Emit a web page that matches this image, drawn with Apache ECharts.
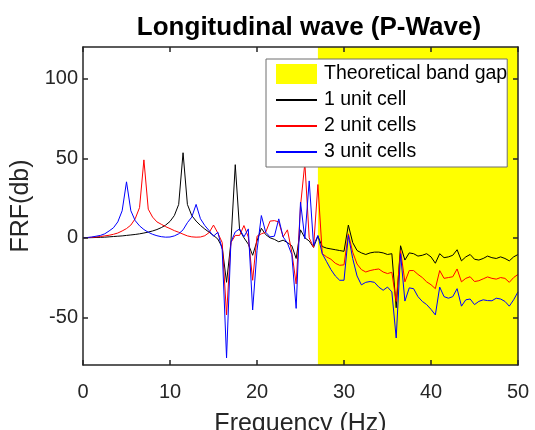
<!DOCTYPE html>
<html>
<head>
<meta charset="utf-8">
<script src="https://cdn.jsdelivr.net/npm/echarts@6/dist/echarts.min.js"></script>
<style>
html,body{margin:0;padding:0;background:#fff;}
#chart{width:535px;height:430px;}
</style>
</head>
<body>
<div id="chart"></div>
<script>
const titleText = 'Longitudinal wave (P-Wave)';
const xName = 'Frequency (Hz)';
const yName = 'FRF(db)';
const seriesNames = ['Theoretical band gap', '1 unit cell', '2 unit cells', '3 unit cells'];
const bandGap = [27, 50];
const xTicks = [0, 10, 20, 30, 40, 50];
const yTicks = [-50, 0, 50, 100];

const freq = [
  0, 0.5, 1, 1.5, 2, 2.5, 3, 3.5, 4, 4.5,
  5, 5.5, 6, 6.5, 7, 7.5, 8, 8.5, 9, 9.5,
  10, 10.5, 11, 11.5, 12, 12.5, 13, 13.5, 14, 14.5,
  15, 15.5, 16, 16.5, 17, 17.5, 18, 18.5, 19, 19.5,
  20, 20.5, 21, 21.5, 22, 22.5, 23, 23.5, 24, 24.5,
  25, 25.5, 26, 26.5, 27, 27.5, 28, 28.5, 29, 29.5,
  30, 30.5, 31, 31.5, 32, 32.5, 33, 33.5, 34, 34.5,
  35, 35.5, 36, 36.5, 37, 37.5, 38, 38.5, 39, 39.5,
  40, 40.5, 41, 41.5, 42, 42.5, 43, 43.5, 44, 44.5,
  45, 45.5, 46, 46.5, 47, 47.5, 48, 48.5, 49, 49.5,
  50
];

const oneCell = [
  0, 0.05, 0.1, 0.2, 0.3, 0.4, 0.6, 0.8, 1.0, 1.2,
  1.5, 1.8, 2.1, 2.5, 3.0, 3.6, 4.3, 5.2, 6.4, 8.0,
  10.3, 14, 21, 53.5, 21, 14, 10.5, 7.8, 5.5, 3.5,
  1.5, -0.8, -6, -28, -3, 46, 5, 0, -4, -11,
  -2, 6, 2, 0, -1, -2.5, -1.5, -3, -5, -13,
  5, 0, -2, -6, 1, -5.5, -6.5, -7, -7.5, -8,
  -8.5, 8, -3, -8, -9.5, -10.5, -9.5, -9, -9, -9.5,
  -10.5, -10, -44, -5, -14, -9.5, -10, -11.5, -11, -10,
  -12, -16, -10, -12.5, -12, -11, -7.5, -14.5, -12, -10.5,
  -13.5, -14, -13, -11.5, -12.5, -13, -12, -13, -14.5, -12,
  -10.5
];

const twoCells = [
  0, 0.1, 0.3, 0.5, 0.8, 1.2, 1.6, 2.2, 3.0, 4.3,
  5.8, 8, 12, 19, 49, 18, 13, 10, 8.5, 7,
  5.8, 4.5, 3.5, 2.3, 1.2, 0.6, 0.4, 0.5, 1.3, 3.3,
  8, 3, -3, -48.5, -3, 1.5, 1.5, 7.7, 0.5, -26.7,
  1, 2.5, 3.5, 10.5, 10.8, 10, 0.6, 5, -9, -29,
  20, 47, 0, -6, 33.5, -10, -12, -13.5, -16, -17.3,
  -17, 2.5, -9, -16.5, -20, -21.5, -20.6, -20, -19.6, -21.5,
  -22.5, -21.7, -40, -8, -27.7, -20.6, -20.6, -23, -25, -27.7,
  -29.5, -32, -20.6, -25.5, -25, -24.5, -19.6, -27.7, -25.5, -24.5,
  -27.5, -27, -25.8, -24.6, -25.5, -26, -25, -25.5, -28, -25,
  -23
];

const threeCells = [
  0, 0.2, 0.5, 1, 1.5, 2.5, 4.3, 6.3, 10, 17,
  35.2, 17, 10.8, 7.5, 5.2, 3.5, 2.2, 1.3, 0.7, 0.4,
  0.5, 1.2, 2.5, 5, 9.5, 13, 21, 12, 7.7, 4.5,
  1, 3.5, -7.5, -75.5, -2.7, 3.7, 5.6, 0.6, 5.6, -45.4,
  -8, 14, 3.5, 0.6, 1, 11.9, 0.6, -3.3, -10.6, -44.4,
  22.5, -0.6, 35.8, -4.8, 1.5, -10, -15, -20, -24, -26.7,
  -26.7, 1.5, -13, -24, -29.6, -28, -27.5, -28, -31, -33,
  -31, -34, -63, -10, -39.8, -31.5, -32, -37, -40, -42,
  -45, -48.5, -31, -37, -38, -37, -32, -43, -39, -38.5,
  -42, -40, -39, -39.5, -39.6, -38, -38.5, -40, -43, -39,
  -34
];

const pair = (ys) => freq.map((f, i) => [f, ys[i]]);
const FONT = "'Liberation Sans', Arial, Helvetica, sans-serif";
const AX = '#262626';

const chart = echarts.init(document.getElementById('chart'), null, {renderer: 'canvas'});

const baseX = {
  type: 'value', min: 0, max: 50, interval: 10,
  axisLine: {show: true, onZero: false, lineStyle: {color: AX, width: 1.5}},
  axisTick: {show: true, inside: true, length: 5, lineStyle: {color: AX, width: 1.5}},
  splitLine: {show: false},
  z: 5
};
const baseY = {
  type: 'value', min: -80, max: 120,
  axisLine: {show: true, onZero: false, lineStyle: {color: AX, width: 1.5}},
  axisTick: {show: true, inside: true, length: 5, customValues: yTicks, lineStyle: {color: AX, width: 1.5}},
  splitLine: {show: false},
  z: 5
};

chart.setOption({
  animation: false,
  backgroundColor: '#fff',
  title: {
    text: titleText,
    left: 309, top: 15, padding: 0,
    textAlign: 'center',
    textStyle: {fontFamily: FONT, fontSize: 26, fontWeight: 'bold', color: '#000'}
  },
  grid: {left: 83, right: 17, top: 47, bottom: 65, containLabel: false, outerBoundsMode: 'none'},
  legend: {
    orient: 'vertical',
    left: 266, top: 59,
    padding: [5, 0, 5, 9],
    itemWidth: 41, itemHeight: 20, itemGap: 6,
    backgroundColor: '#fff',
    borderColor: '#6e6e6e', borderWidth: 1,
    lineStyle: {width: 2},
    textStyle: {fontFamily: FONT, fontSize: 19.5, color: '#000', padding: [0, 0, 0, 2]},
    data: [
      {name: seriesNames[0], icon: 'rect', itemStyle: {color: '#ffff00', opacity: 1}},
      {name: seriesNames[1], itemStyle: {opacity: 0}},
      {name: seriesNames[2], itemStyle: {opacity: 0}},
      {name: seriesNames[3], itemStyle: {opacity: 0}}
    ],
    z: 10
  },
  xAxis: [
    Object.assign({}, baseX, {
      position: 'bottom',
      name: xName, nameLocation: 'middle', nameGap: 47,
      nameTextStyle: {fontFamily: FONT, fontSize: 25, color: AX},
      axisLabel: {show: true, margin: 17, fontFamily: FONT, fontSize: 20, color: AX, customValues: xTicks}
    }),
    Object.assign({}, baseX, {position: 'top', axisLabel: {show: false}})
  ],
  yAxis: [
    Object.assign({}, baseY, {
      position: 'left',
      name: yName, nameLocation: 'middle', nameGap: 46,
      nameTextStyle: {fontFamily: FONT, fontSize: 25, color: AX},
      axisLabel: {show: true, margin: 5, fontFamily: FONT, fontSize: 20, color: AX, customValues: yTicks}
    }),
    Object.assign({}, baseY, {position: 'right', axisLabel: {show: false}})
  ],
  series: [
    {
      name: seriesNames[0], type: 'line', data: [], z: 1,
      itemStyle: {color: '#ffff00'},
      markArea: {
        silent: true,
        itemStyle: {color: '#ffff00', opacity: 1},
        data: [[{xAxis: bandGap[0]}, {xAxis: bandGap[1]}]]
      }
    },
    {name: seriesNames[1], type: 'line', data: pair(oneCell), symbol: 'none', z: 2,
     itemStyle: {color: '#000000'}, lineStyle: {color: '#000000', width: 1}},
    {name: seriesNames[2], type: 'line', data: pair(twoCells), symbol: 'none', z: 3,
     itemStyle: {color: '#ff0000'}, lineStyle: {color: '#ff0000', width: 1}},
    {name: seriesNames[3], type: 'line', data: pair(threeCells), symbol: 'none', z: 4,
     itemStyle: {color: '#0000ff'}, lineStyle: {color: '#0000ff', width: 1}}
  ]
});
</script>
</body>
</html>
